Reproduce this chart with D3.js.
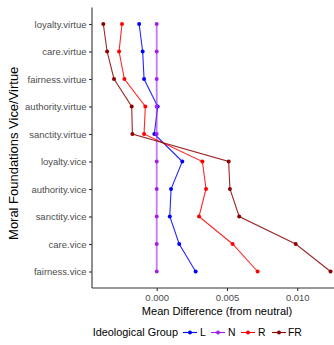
<!DOCTYPE html>
<html>
<head>
<meta charset="utf-8">
<script src="https://cdn.jsdelivr.net/npm/d3@7"></script>
<style>
html,body{margin:0;padding:0;background:#fff;}
svg{display:block;font-family:"Liberation Sans",Arial,sans-serif;}
</style>
</head>
<body>
<svg id="chart" width="334" height="345"></svg>
<script>
const categories = ["loyalty.virtue","care.virtue","fairness.virtue","authority.virtue","sanctity.virtue",
  "loyalty.vice","authority.vice","sanctity.vice","care.vice","fairness.vice"];
const groups = ["L","N","R","FR"];
const colors = ["#0000FF","#A020F0","#FF0000","#8B0000"];
const valuesL  = [-0.00125,-0.00100,-0.00090,0.00007,-0.00017,0.00182,0.00102,0.00093,0.00160,0.00277];
const valuesN  = [0,0,0,0,0,0,0,0,0,0];
const valuesR  = [-0.00247,-0.00268,-0.00230,-0.00081,-0.00090,0.00325,0.00351,0.00301,0.00540,0.00718];
const valuesFR = [-0.00380,-0.00353,-0.00304,-0.00178,-0.00173,0.00512,0.00521,0.00587,0.00989,0.01237];
const xTicks = [0,0.005,0.010];
const xTickLabels = ["0.000","0.005","0.010"];

const series = [valuesL, valuesN, valuesR, valuesFR];
const svg = d3.select("#chart");
const pLeft = 92, pTop = 7.5, pBottom = 288, pRight = 342;
const FONT = "Liberation Sans, Arial, sans-serif";

function fitSize(sel, target){
  sel.style("font-size","10px");
  const len = sel.node().getComputedTextLength();
  const s = 10*target/len;
  return s;
}

const x = d3.scaleLinear().domain([-0.004605, 0.013185]).range([pLeft, pRight]);
const y = d3.scalePoint().domain(categories).range([pTop, pBottom]).padding(0.6);

// measure tick font size
const probe = svg.append("text").style("font-family",FONT).text("fairness.vice");
const tickSize = fitSize(probe, 52.7);
probe.remove();

// y axis
const yAxis = svg.append("g").attr("transform", `translate(${pLeft},0)`)
  .call(d3.axisLeft(y).tickSize(3).tickPadding(2.5));
yAxis.select(".domain").attr("d", `M0,${pTop}V${pBottom}`).attr("stroke","#333").attr("stroke-width",1.1);
yAxis.selectAll(".tick line").attr("stroke","#333").attr("stroke-width",1.1);
yAxis.selectAll(".tick text").attr("fill","#4D4D4D").style("font-size",tickSize+"px").style("font-family",FONT);

// x axis
const xAxis = svg.append("g").attr("transform", `translate(0,${pBottom})`)
  .call(d3.axisBottom(x).tickValues(xTicks).tickFormat((d,i)=>xTickLabels[i]).tickSize(3).tickPadding(3));
xAxis.select(".domain").attr("d", `M${pLeft},0H${pRight}`).attr("stroke","#333").attr("stroke-width",1.1);
xAxis.selectAll(".tick line").attr("stroke","#333").attr("stroke-width",1.1);
xAxis.selectAll(".tick text").attr("fill","#4D4D4D").style("font-size",tickSize+"px").style("font-family",FONT);

// lines and points
const line = d3.line().x(d=>x(d.v)).y(d=>y(d.c));
const plot = svg.append("g");
series.forEach((vals,gi)=>{
  const data = vals.map((v,i)=>({v, c: categories[i]}));
  plot.append("path").datum(data).attr("d", line)
    .attr("fill","none").attr("stroke", colors[gi])
    .attr("stroke-width", gi===1 ? 1.8 : 1.1)
    .attr("stroke-opacity", gi===1 ? 0.6 : 0.85);
});
series.forEach((vals,gi)=>{
  plot.selectAll(null).data(vals.map((v,i)=>({v, c: categories[i]}))).enter()
    .append("circle").attr("cx", d=>x(d.v)).attr("cy", d=>y(d.c)).attr("r", 2)
    .attr("fill", colors[gi]);
});

// axis titles
const xt = svg.append("text").attr("x", 217).attr("y", 314.5).attr("text-anchor","middle")
  .style("font-family",FONT).attr("fill","#000").text("Mean Difference (from neutral)");
xt.style("font-size", fitSize(xt, 150.6)+"px");
const yt = svg.append("text").attr("transform", `translate(18,153.3) rotate(-90)`)
  .attr("text-anchor","middle").style("font-family",FONT).attr("fill","#000")
  .text("Moral Foundations Vice/Virtue");
yt.style("font-size", fitSize(yt, 173.3)+"px");

// legend
const lg = svg.append("g");
const lt = lg.append("text").attr("x", 92.7).attr("y", 336).style("font-family",FONT).attr("fill","#000").text("Ideological Group");
lt.style("font-size", fitSize(lt, 85.3)+"px");
const keyX = [190, 218, 248, 279];
const labX = [200, 228, 258, 288];
groups.forEach((g,i)=>{
  lg.append("line").attr("x1", keyX[i]-7).attr("x2", keyX[i]+7).attr("y1", 332.5).attr("y2", 332.5)
    .attr("stroke", colors[i]).attr("stroke-width", 1.1);
  lg.append("circle").attr("cx", keyX[i]).attr("cy", 332.5).attr("r", 2).attr("fill", colors[i]);
  lg.append("text").attr("x", labX[i]).attr("y", 336).style("font-size", (tickSize*1.1)+"px")
    .style("font-family",FONT).attr("fill","#000").text(g);
});
</script>
</body>
</html>
